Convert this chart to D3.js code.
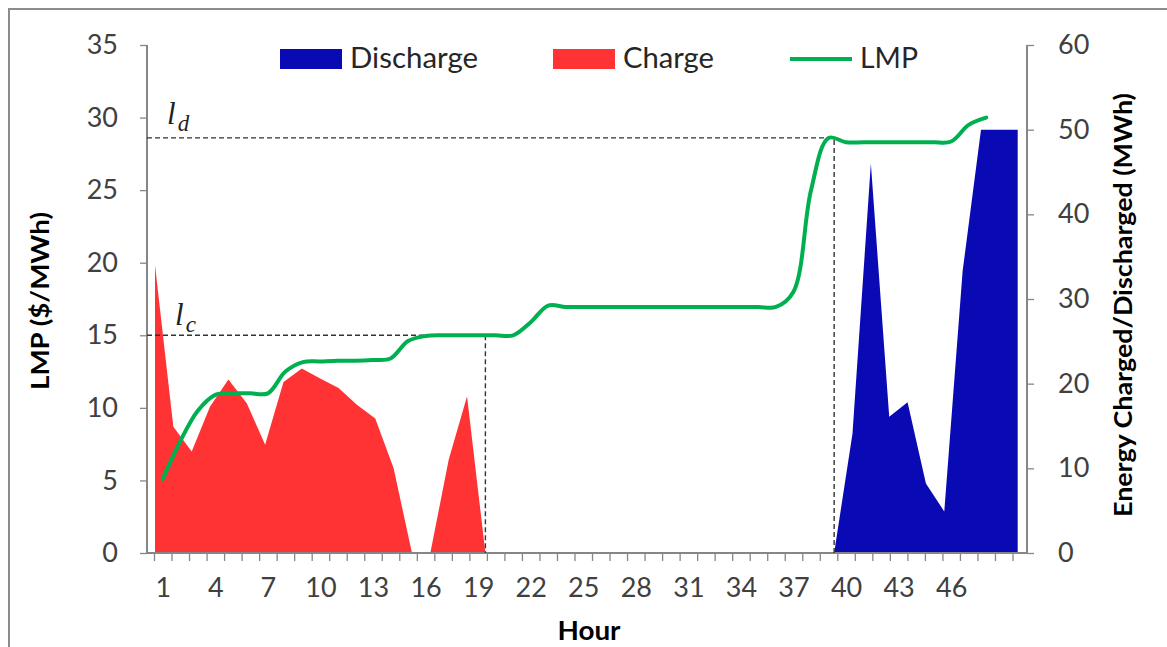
<!DOCTYPE html>
<html><head><meta charset="utf-8">
<script src="https://cdn.jsdelivr.net/npm/d3@7"></script>
<style>body{margin:0;background:#fff;} svg{display:block;}</style>
</head><body>
<svg id="chart" width="1167" height="647"></svg>
<script>
// ---------- data ----------
const hours = [1,2,3,4,5,6,7,8,9,10,11,12,13,14,15,16,17,18,19,20,21,22,23,24,25,26,27,28,29,30,31,32,33,34,35,36,37,38,39,40,41,42,43,44,45,46,47,48];
const charge = [34.0,14.9,12.0,17.3,20.5,17.7,12.8,20.2,21.8,20.6,19.5,17.5,15.9,10.0,0,0,11.0,18.5,0,
  0,0,0,0,0,0,0,0,0,0,0,0,0,0,0,0,0,0,0,0,0,0,0,0,0,0,0,0,0];
const discharge = [0,0,0,0,0,0,0,0,0,0,0,0,0,0,0,0,0,0,0,0,0,0,0,0,0,0,0,0,0,0,0,0,0,0,0,0,0,
  0,14.1,46.0,16.1,17.8,8.2,4.9,33.3,50,50,50];
const lmp = [5.1,7.7,9.8,10.9,11.0,11.0,11.0,12.5,13.15,13.2,13.25,13.25,13.3,13.4,14.6,14.95,15.0,15.0,15.0,15.0,15.0,15.9,17.05,
  16.95,16.95,16.95,16.95,16.95,16.95,16.95,16.95,16.95,16.95,16.95,16.95,16.95,18.0,25.0,28.6,28.3,28.3,28.3,28.3,28.3,28.3,28.35,29.5,30.0];
const hourTickLabels = [1,4,7,10,13,16,19,22,25,28,31,34,37,40,43,46];
const categoryCount = 49;
const lmpTicks = [0,5,10,15,20,25,30,35];
const energyTicks = [0,10,20,30,40,50,60];
const levelCharge = 15.0, levelDischarge = 28.6;
const lastChargeHour = 19, firstDischargeHour = 38;
const legendNames = ["Discharge","Charge","LMP"];

// ---------- layout ----------
const svg = d3.select("#chart");
const L = 147, R = 1027, T = 45, B = 553;
const axisColor = "#868686", textColor = "#404040";
const font = "Lato, 'Open Sans', sans-serif";

svg.append("rect").attr("x",9).attr("y",9).attr("width",1180).attr("height",660)
  .attr("fill","#fff").attr("stroke","#8c8c8c").attr("stroke-width",2);

const yL = d3.scaleLinear().domain([0,35]).range([B,T]);
const yR = d3.scaleLinear().domain([0,60]).range([B,T]);
const xArea = d3.scaleLinear().domain([1,48]).range([155,1017.7]);
const xCat = d3.scaleLinear().domain([0.5, categoryCount+0.5]).range([154,1012.5]);

const rows = hours.map((h,i)=>({h, c:charge[i], d:discharge[i], p:lmp[i]}));

// areas
const areaGen = key => d3.area().x(d=>xArea(d.h)).y0(yR(0)).y1(d=>yR(d[key]));
svg.append("path").datum(rows).attr("d", areaGen("c")).attr("fill","#FF3333");
svg.append("path").datum(rows).attr("d", areaGen("d")).attr("fill","#0A0AB4");

// axes
function styleAxis(g, size){
  g.selectAll("line").attr("stroke",axisColor).attr("stroke-width",1.3);
  g.selectAll("path.domain").remove();
  g.selectAll("text").attr("fill",textColor).attr("font-family",font).attr("font-size",size);
}
svg.append("g").attr("transform",`translate(${L},0)`)
  .call(d3.axisLeft(yL).tickValues(lmpTicks).tickSize(7).tickPadding(22).tickSizeOuter(0))
  .call(g=>styleAxis(g,27));
svg.append("g").attr("transform",`translate(${R},0)`)
  .call(d3.axisRight(yR).tickValues(energyTicks).tickSize(7).tickPadding(24).tickSizeOuter(0))
  .call(g=>styleAxis(g,27));
const bounds = d3.range(0, categoryCount+1).map(i=>i+0.5);
svg.append("g").attr("transform",`translate(0,${B})`)
  .call(d3.axisBottom(xCat).tickValues(bounds).tickSize(8).tickFormat(""))
  .call(g=>styleAxis(g,27));
svg.append("g").attr("transform",`translate(0,${B})`)
  .call(d3.axisBottom(xCat).tickValues(hourTickLabels).tickSize(0).tickPadding(25).tickFormat(d3.format("d")))
  .call(g=>styleAxis(g,27));
// axis lines
[[L,T,L,B],[R,T,R,B],[L,B,R,B]].forEach(([x1,y1,x2,y2])=>
  svg.append("line").attr("x1",x1).attr("y1",y1).attr("x2",x2).attr("y2",y2)
    .attr("stroke",axisColor).attr("stroke-width",2));

// threshold dashed lines
function dashed(x1,y1,x2,y2){
  svg.append("line").attr("x1",x1).attr("y1",y1).attr("x2",x2).attr("y2",y2)
    .attr("stroke","#333").attr("stroke-width",1.4).attr("stroke-dasharray","5,3");
}
dashed(L, yL(levelCharge), xArea(lastChargeHour), yL(levelCharge));
dashed(xArea(lastChargeHour), yL(levelCharge), xArea(lastChargeHour), B);
dashed(L, yL(levelDischarge), xArea(firstDischargeHour), yL(levelDischarge));
dashed(xArea(firstDischargeHour), yL(levelDischarge)+2, xArea(firstDischargeHour), B);

// LMP line
svg.append("path").datum(rows)
  .attr("d", d3.line().x(d=>xCat(d.h)).y(d=>yL(d.p)).curve(d3.curveCatmullRom.alpha(0.5)))
  .attr("fill","none").attr("stroke","#00B050").attr("stroke-width",4).attr("stroke-linecap","round");

// level labels
function levelLabel(x,y,sub){
  const t = svg.append("text").attr("x",x).attr("y",y)
    .attr("font-family","'Liberation Serif', 'DejaVu Serif', serif").attr("font-style","italic")
    .attr("font-size",31).attr("fill","#222");
  t.append("tspan").text("l");
  t.append("tspan").attr("font-size",23).attr("dy",7).attr("dx",2).text(sub);
}
levelLabel(167, yL(levelDischarge)-14, "d");
levelLabel(175, yL(levelCharge)-10, "c");

// legend
const legendX = [280, 553, 790];
const legendW = [128, 91, 58];
svg.append("rect").attr("x",legendX[0]).attr("y",49).attr("width",62).attr("height",20).attr("fill","#0A0AB4");
svg.append("rect").attr("x",legendX[1]).attr("y",49).attr("width",62).attr("height",20).attr("fill","#FF3333");
svg.append("line").attr("x1",legendX[2]).attr("x2",legendX[2]+62).attr("y1",59).attr("y2",59)
  .attr("stroke","#00B050").attr("stroke-width",4);
legendNames.forEach((n,i)=>{
  svg.append("text").attr("x",legendX[i]+70).attr("y",68).text(n)
    .attr("font-family",font).attr("font-size",28).attr("fill","#262626")
    .attr("textLength",legendW[i]).attr("lengthAdjust","spacingAndGlyphs");
});

// axis titles
svg.append("text").attr("transform","translate(49,301) rotate(-90)").attr("text-anchor","middle")
  .attr("font-family",font).attr("font-weight","bold").attr("font-size",25).attr("fill","#000")
  .attr("textLength",178).attr("lengthAdjust","spacingAndGlyphs").text("LMP ($/MWh)");
svg.append("text").attr("transform","translate(1132,305) rotate(-90)").attr("text-anchor","middle")
  .attr("font-family",font).attr("font-weight","bold").attr("font-size",25).attr("fill","#000")
  .attr("textLength",424).attr("lengthAdjust","spacingAndGlyphs").text("Energy Charged/Discharged (MWh)");
svg.append("text").attr("x",589).attr("y",640).attr("text-anchor","middle")
  .attr("font-family",font).attr("font-weight","bold").attr("font-size",26).attr("fill","#000")
  .attr("textLength",63).attr("lengthAdjust","spacingAndGlyphs").text("Hour");
</script>
</body></html>
